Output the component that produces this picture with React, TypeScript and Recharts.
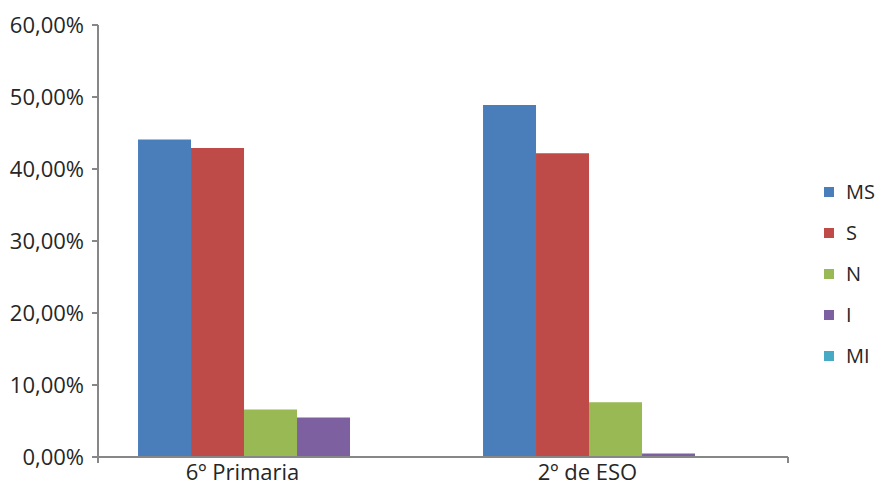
import { BarChart, Bar, XAxis, YAxis } from "recharts";

// categorías y series
const categories = ["6º Primaria", "2º de ESO"];
const seriesNames = ["MS", "S", "N", "I", "MI"];
const seriesColors = ["#4A7EBB", "#BE4B48", "#98B954", "#7D60A0", "#46AAC5"];

const msValues = [0.441, 0.489];
const sValues = [0.429, 0.422];
const nValues = [0.066, 0.076];
const iValues = [0.055, 0.005];
const miValues = [0, 0];

const yTicks = [0, 0.1, 0.2, 0.3, 0.4, 0.5, 0.6];
const edgeTicks = [0, 1, 2];

const allValues = [msValues, sValues, nValues, iValues, miValues];

const data = categories.map((name, i) => {
  const row: Record<string, string | number> = { name };
  seriesNames.forEach((s, k) => {
    row[s] = allValues[k][i];
  });
  return row;
});

const AXIS = "#878787";
const TEXT = "#262626";
const FONT = "'Open Sans', sans-serif";

function pct(v: number) {
  return (v * 100).toFixed(2).replace(".", ",") + "%";
}

export default function App() {
  return (
    <div
      style={{
        position: "absolute",
        left: 0,
        top: 0,
        width: 877,
        height: 483,
        background: "#fff",
        fontFamily: FONT,
      }}
    >
      <BarChart
        width={877}
        height={483}
        data={data}
        margin={{ top: 25, right: 89, bottom: 0, left: 0 }}
        barCategoryGap="11.6%"
        barGap={0}
      >
        {/* eje con marcas en los bordes de categoría (como Excel) */}
        <XAxis
          xAxisId={0}
          type="number"
          domain={[0, categories.length]}
          ticks={edgeTicks}
          tickFormatter={() => ""}
          height={2}
          tickSize={6}
          stroke={AXIS}
          strokeWidth={2}
          allowDataOverflow
        />
        <XAxis
          xAxisId={1}
          dataKey="name"
          axisLine={false}
          tickLine={false}
          tickSize={0}
          tickMargin={5}
          height={24}
          tick={{ fill: TEXT, fontSize: 22, fontFamily: FONT, dx: -28 }}
        />
        <YAxis
          domain={[0, 0.6]}
          ticks={yTicks}
          tickFormatter={pct}
          width={98}
          tickSize={6}
          tickMargin={8}
          stroke={AXIS}
          strokeWidth={2}
          tick={{ fill: TEXT, fontSize: 22, fontFamily: FONT }}
        />
        {seriesNames.map((s, k) => (
          <Bar
            key={s}
            xAxisId={1}
            dataKey={s}
            fill={seriesColors[k]}
            isAnimationActive={false}
          />
        ))}
      </BarChart>
      <div style={{ position: "absolute", left: 824, top: 171 }}>
        {seriesNames.map((s, k) => (
          <div
            key={s}
            style={{
              display: "flex",
              alignItems: "center",
              height: 41,
              fontSize: 20,
              color: TEXT,
            }}
          >
            <span
              style={{
                width: 10,
                height: 10,
                background: seriesColors[k],
                marginRight: 12,
                display: "inline-block",
              }}
            />
            {s}
          </div>
        ))}
      </div>
    </div>
  );
}
